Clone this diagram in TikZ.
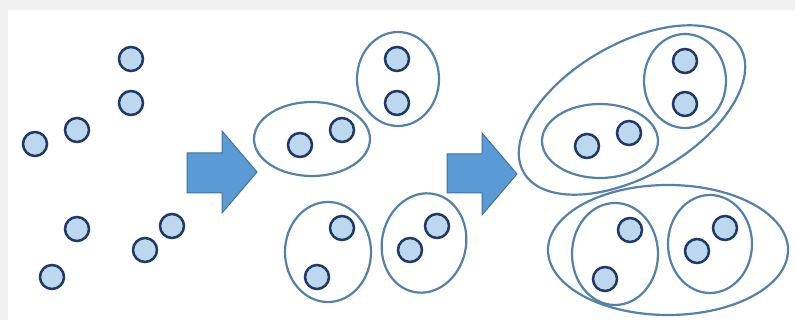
\documentclass[tikz,border=0pt]{standalone}
\usetikzlibrary{shapes.arrows}
\definecolor{dotfill}{HTML}{BDD7EE}
\definecolor{dotline}{HTML}{1F3864}
\definecolor{ringline}{HTML}{5580A8}
\definecolor{arrowfill}{HTML}{5B9BD5}
\definecolor{arrowline}{HTML}{41719C}
\definecolor{frame}{HTML}{F1F1F1}
\begin{document}
\begin{tikzpicture}[x=1pt,y=-1pt,
  dot/.style={circle,draw=dotline,fill=dotfill,line width=2.5pt,minimum size=24pt,inner sep=0pt},
  ring/.style={draw=ringline,line width=2.2pt},
  bigarrow/.style={fill=arrowfill,draw=arrowline,line width=1pt,line join=miter}]
\useasboundingbox (0,0) rectangle (795,320);
\fill[frame] (0,0) rectangle (795,320);
\fill[white] (8,10) rectangle (795,320);
% stage 1
\node[dot] (a1) at (131,59) {};
\node[dot] (a2) at (131,103) {};
\node[dot] (a3) at (77,130) {};
\node[dot] (a4) at (35,144) {};
\node[dot] (a5) at (77,229) {};
\node[dot] (a6) at (52,277) {};
\node[dot] (a7) at (145,250) {};
\node[dot] (a8) at (172,226) {};
% arrow 1
\draw[bigarrow] (187,153) -- (222,153) -- (222,131) -- (257,172) -- (222,213) -- (222,193) -- (187,193) -- cycle;
% stage 2
\draw[ring] (398,79) ellipse [x radius=41,y radius=47];
\node[dot] (b1) at (397,59) {};
\node[dot] (b2) at (397,103) {};
\draw[ring] (312,139) ellipse [x radius=58,y radius=37];
\node[dot] (b3) at (300,145) {};
\node[dot] (b4) at (342,130) {};
\draw[ring] (328,252) ellipse [x radius=43,y radius=50];
\node[dot] (b5) at (342,228) {};
\node[dot] (b6) at (317,277) {};
\draw[ring,rotate around={-12:(424,243)}] (424,243) ellipse [x radius=42,y radius=50];
\node[dot] (b7) at (410,250) {};
\node[dot] (b8) at (437,226) {};
% arrow 2
\draw[bigarrow] (447,154) -- (482,154) -- (482,133) -- (517,174) -- (482,215) -- (482,193) -- (447,193) -- cycle;
% stage 3
\draw[ring,rotate around={30:(632,110)}] (632,110) ellipse [x radius=125,y radius=66];
\draw[ring] (685,81) ellipse [x radius=41,y radius=47];
\node[dot] (c1) at (685,61) {};
\node[dot] (c2) at (685,104) {};
\draw[ring] (600,141) ellipse [x radius=58,y radius=37];
\node[dot] (c3) at (587,146) {};
\node[dot] (c4) at (629,133) {};
\draw[ring] (668,250) ellipse [x radius=120,y radius=65];
\draw[ring] (615,254) ellipse [x radius=43,y radius=51];
\node[dot] (c5) at (630,230) {};
\node[dot] (c6) at (605,279) {};
\draw[ring] (710,244) ellipse [x radius=42,y radius=49];
\node[dot] (c7) at (697,251) {};
\node[dot] (c8) at (725,228) {};
\end{tikzpicture}
\end{document}
